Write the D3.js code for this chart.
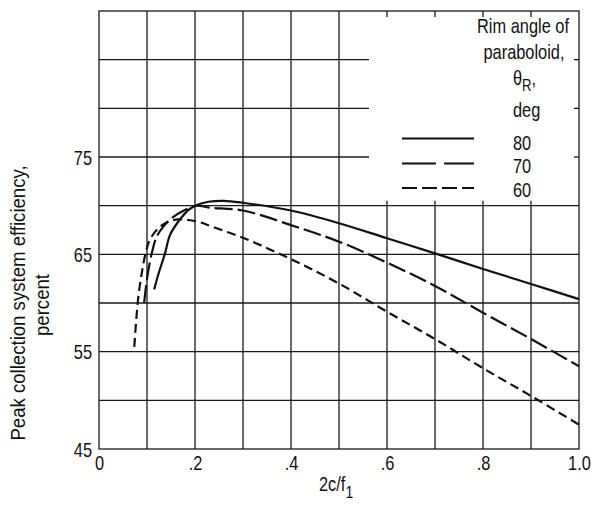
<!DOCTYPE html>
<html>
<head>
<meta charset="utf-8">
<script src="https://cdn.jsdelivr.net/npm/d3@7"></script>
<style>
  body { margin: 0; background: #fff; }
  text { font-family: "Liberation Sans", Arial, sans-serif; fill: #111; }
</style>
</head>
<body>
<script>
// Curves: rim angle 80, 70, 60 deg
var x80 = [0.115, 0.124, 0.1375, 0.148, 0.165, 0.186, 0.203, 0.228, 0.26, 0.3, 0.4, 0.5, 0.6, 0.7, 0.8, 0.9, 1.0];
var y80 = [61.4, 63.0, 65.1, 67.0, 68.35, 69.55, 70.05, 70.4, 70.5, 70.3, 69.5, 68.2, 66.65, 65.1, 63.5, 61.95, 60.4];

var x70 = [0.094, 0.098, 0.103, 0.11, 0.12, 0.134, 0.151, 0.179, 0.203, 0.23, 0.3, 0.4, 0.5, 0.6, 0.7, 0.8, 0.9, 1.0];
var y70 = [60.0, 61.7, 63.4, 65.1, 66.8, 67.85, 68.7, 69.55, 70.0, 69.8, 69.5, 68.0, 66.3, 64.15, 61.75, 59.0, 56.3, 53.5];

var x60 = [0.0735, 0.077, 0.082, 0.089, 0.097, 0.106, 0.124, 0.144, 0.165, 0.19, 0.21, 0.235, 0.3, 0.4, 0.5, 0.6, 0.7, 0.8, 0.9, 1.0];
var y60 = [55.5, 57.9, 60.65, 63.05, 65.1, 66.5, 67.7, 68.35, 68.6, 68.5, 68.3, 67.85, 66.7, 64.5, 62.0, 59.1, 56.3, 53.3, 50.45, 47.5];

var seriesNames = ["80", "70", "60"];
var xTicks = [0, 0.2, 0.4, 0.6, 0.8, 1.0];
var xTickLabels = ["0", ".2", ".4", ".6", ".8", "1.0"];
var yTicks = [45, 55, 65, 75];

var width = 594, height = 508;
var x = d3.scaleLinear().domain([0, 1]).range([99, 579]);
var y = d3.scaleLinear().domain([45, 90]).range([449, 11]);

var svg = d3.select("body").append("svg")
    .attr("width", width)
    .attr("height", height);

// squeeze text sideways, the original uses a condensed face
function condense(sel, k) {
  k = k || 0.82;
  sel.each(function() {
    var t = d3.select(this);
    var tx = +t.attr("x") || 0;
    var pre = t.attr("transform") || "";
    t.attr("x", tx / k)
     .attr("transform", pre + " scale(" + k + ",1)");
  });
}

var grid = svg.append("g")
    .attr("stroke", "#1a1a1a")
    .attr("stroke-width", 1.3)
    .attr("fill", "none");

// vertical grid: left half runs full height, right half stops under the legend
d3.range(1, 10).forEach(function(i) {
  var v = i / 10;
  var top = v <= 0.5 ? 90 : 70.5;
  grid.append("line")
    .attr("x1", x(v)).attr("x2", x(v))
    .attr("y1", y(45)).attr("y2", y(top));
  if (v > 0.5) {
    grid.append("line")
      .attr("x1", x(v)).attr("x2", x(v))
      .attr("y1", y(90)).attr("y2", y(90) + 6);
  }
});

// horizontal grid: upper lines stop short of the legend
d3.range(50, 90, 5).forEach(function(v) {
  var right = v <= 70 ? 1 : 0.5625;
  grid.append("line")
    .attr("x1", x(0)).attr("x2", x(right))
    .attr("y1", y(v)).attr("y2", y(v));
  if (v > 70) {
    grid.append("line")
      .attr("x1", x(1) - 5).attr("x2", x(1))
      .attr("y1", y(v)).attr("y2", y(v));
  }
});

grid.append("rect")
  .attr("x", x(0)).attr("y", y(90))
  .attr("width", x(1) - x(0))
  .attr("height", y(45) - y(90));

// axes
var yAxis = svg.append("g")
    .attr("transform", "translate(" + x(0) + ",0)")
    .call(d3.axisLeft(y).tickValues(yTicks).tickSize(0).tickPadding(7));
var xAxis = svg.append("g")
    .attr("transform", "translate(0," + y(45) + ")")
    .call(d3.axisBottom(x).tickValues(xTicks).tickSize(0).tickPadding(7)
      .tickFormat(function(d, i) { return xTickLabels[i]; }));
[yAxis, xAxis].forEach(function(a) {
  a.select(".domain").remove();
  a.selectAll("text").attr("font-size", 20).attr("font-family", null).attr("fill", "#111");
  condense(a.selectAll("text"));
});
yAxis.selectAll("text").attr("dy", "0.36em");

// curves
var series = [
  { xs: x80, ys: y80, dash: null, legendDash: null },
  { xs: x70, ys: y70, dash: "18,5", legendDash: "34,8" },
  { xs: x60, ys: y60, dash: "9,5", legendDash: "15,5" }
];

var line = d3.line()
    .curve(d3.curveCatmullRom.alpha(0.5))
    .x(function(d) { return x(d[0]); })
    .y(function(d) { return y(d[1]); });

series.forEach(function(s) {
  var pts = s.xs.map(function(v, i) { return [v, s.ys[i]]; });
  svg.append("path")
    .datum(pts)
    .attr("d", line)
    .attr("fill", "none")
    .attr("stroke", "#111")
    .attr("stroke-width", 2.2)
    .attr("stroke-dasharray", s.dash);
});

// legend
var legend = svg.append("g").attr("font-size", 20);
legend.append("text").attr("x", 523).attr("y", 33).attr("text-anchor", "middle").text("Rim angle of");
legend.append("text").attr("x", 524).attr("y", 59).attr("text-anchor", "middle").text("paraboloid,");
var th = legend.append("text").attr("x", 513).attr("y", 85);
th.append("tspan").text("θ");
th.append("tspan").attr("dy", 6).attr("font-size", 16).text("R");
th.append("tspan").attr("dy", -6).text(",");
legend.append("text").attr("x", 513).attr("y", 117).text("deg");

var legY = [138.5, 163.5, 188];
var legTextY = [150, 173.5, 197];
series.forEach(function(s, i) {
  legend.append("line")
    .attr("x1", 402).attr("x2", 474)
    .attr("y1", legY[i]).attr("y2", legY[i])
    .attr("stroke", "#111")
    .attr("stroke-width", 2.2)
    .attr("stroke-dasharray", s.legendDash);
  legend.append("text").attr("x", 513).attr("y", legTextY[i]).text(seriesNames[i]);
});
condense(legend.selectAll("text"));

// axis titles
var yt1 = svg.append("text")
  .attr("transform", "translate(25,303) rotate(-90)")
  .attr("text-anchor", "middle")
  .attr("font-size", 20)
  .text("Peak collection system efficiency,");
var yt2 = svg.append("text")
  .attr("transform", "translate(49,305) rotate(-90)")
  .attr("text-anchor", "middle")
  .attr("font-size", 20)
  .text("percent");

var xt = svg.append("text")
  .attr("x", 319).attr("y", 491)
  .attr("font-size", 20);
xt.append("tspan").text("2c/f");
xt.append("tspan").attr("dy", 7).attr("font-size", 17).text("1");

condense(yt1, 0.93); condense(yt2, 0.93); condense(xt);
</script>
</body>
</html>
